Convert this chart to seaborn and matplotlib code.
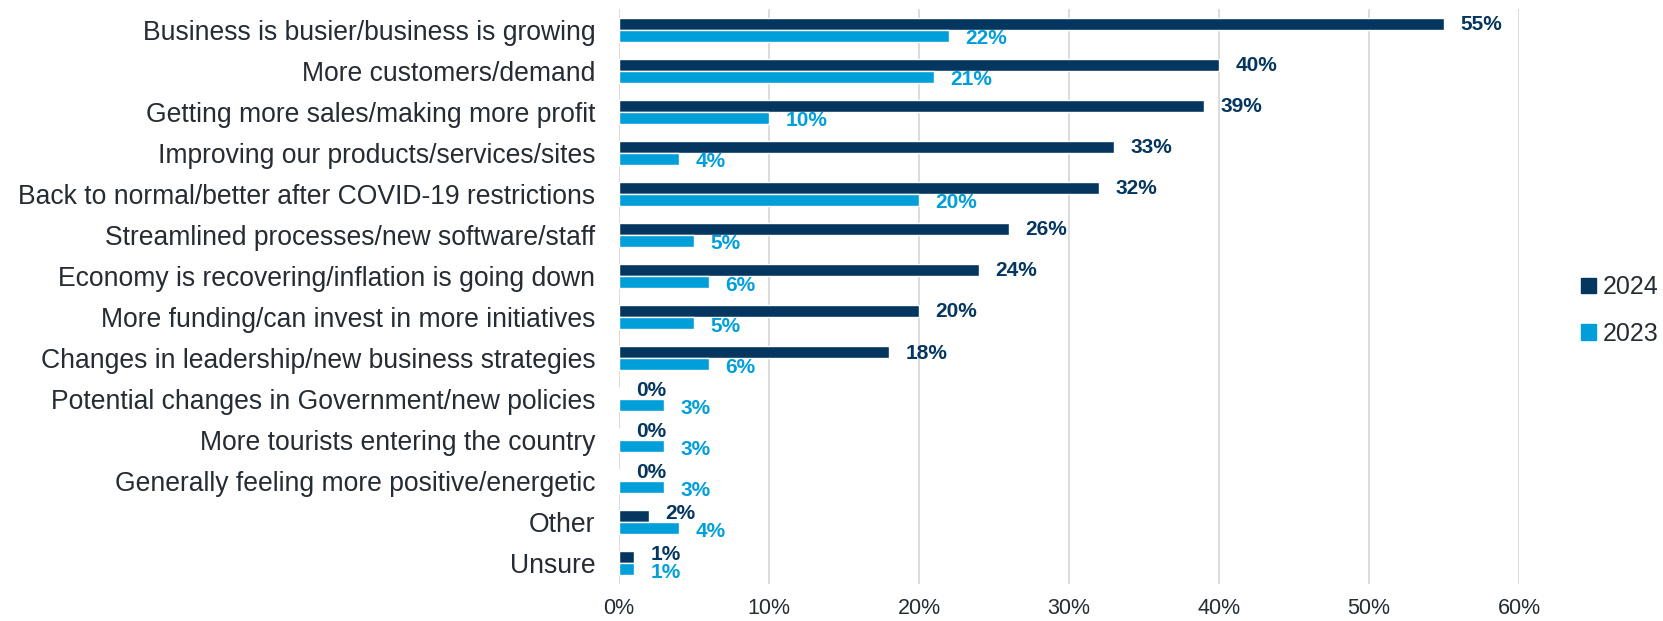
import seaborn as sns
import matplotlib.pyplot as plt
import pandas as pd

categories = [
    'Business is busier/business is growing',
    'More customers/demand',
    'Getting more sales/making more profit',
    'Improving our products/services/sites',
    'Back to normal/better after COVID-19 restrictions',
    'Streamlined processes/new software/staff',
    'Economy is recovering/inflation is going down',
    'More funding/can invest in more initiatives',
    'Changes in leadership/new business strategies',
    'Potential changes in Government/new policies',
    'More tourists entering the country',
    'Generally feeling more positive/energetic',
    'Other',
    'Unsure',
]
values_2024 = [55, 40, 39, 33, 32, 26, 24, 20, 18, 0, 0, 0, 2, 1]
values_2023 = [22, 21, 10, 4, 20, 5, 6, 5, 6, 3, 3, 3, 4, 1]
years = ['2024', '2023']
colors = {'2024': '#05365F', '2023': '#009FDA'}
text_color = '#262C33'

df = pd.DataFrame({
    'category': categories * 2,
    'value': values_2024 + values_2023,
    'year': ['2024'] * len(categories) + ['2023'] * len(categories),
})

sns.set_style('white')
plt.rcParams['font.family'] = ['Liberation Sans', 'DejaVu Sans']

fig = plt.figure(figsize=(16.63, 6.21), dpi=100)
ax = fig.add_axes([0.3722, 0.0596, 0.5412, 0.9259])

sns.barplot(data=df, y='category', x='value', hue='year', hue_order=years,
            palette=colors, orient='h', width=0.585, gap=0, saturation=1,
            errorbar=None, ax=ax, legend=False)

# labels of rows where the two values are close get spread apart a little
close = [abs(a - b) < 5 for a, b in zip(values_2024, values_2023)]
for cont, yr in zip(ax.containers, years):
    vals = values_2024 if yr == '2024' else values_2023
    texts = ax.bar_label(cont, labels=[f'{v}%' for v in vals], padding=12,
                         color=colors[yr], fontsize=15, fontweight='bold')
    for t, c in zip(texts, close):
        if yr == '2024':
            dy = 2.2 if c else -0.7
        else:
            dy = -2.2
        t.xyann = (12, dy)

ax.set_xlim(0, 60)
ax.set_xticks(range(0, 61, 10))
ax.set_xticklabels([f'{v}%' for v in range(0, 61, 10)])
ax.set_xlabel('')
ax.set_ylabel('')
ax.tick_params(axis='x', labelsize=15.5, colors=text_color, length=0, pad=10)
ax.tick_params(axis='y', labelsize=19.1, colors=text_color, length=0, pad=17)
ax.grid(axis='x', color='#D9D9D9', linewidth=1.3)
ax.set_axisbelow(True)
for s in ax.spines.values():
    s.set_visible(False)

handles = [plt.Rectangle((0, 0), 1, 1, color=colors[y]) for y in years]
fig.legend(handles, years, loc='center left', bbox_to_anchor=(0.937, 0.50),
           frameon=False, fontsize=18, handlelength=0.6, handleheight=0.6,
           handletextpad=0.3, labelspacing=0.9, labelcolor=text_color)

fig.savefig('out.png', dpi=100)
